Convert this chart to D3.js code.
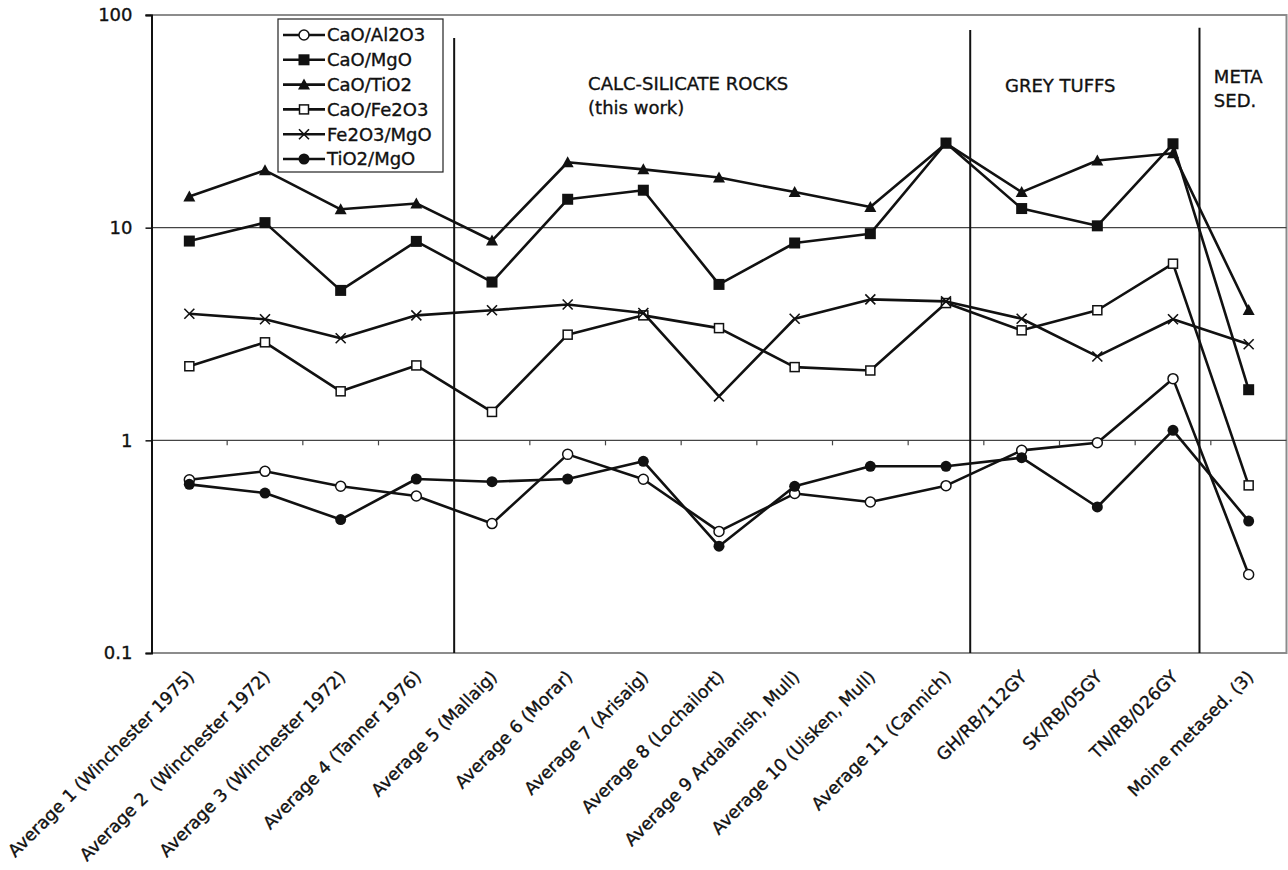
<!DOCTYPE html>
<html>
<head>
<meta charset="utf-8">
<script src="https://cdn.jsdelivr.net/npm/d3@7"></script>
<style>
  html, body { margin: 0; padding: 0; background: #fff; }
  svg { display: block; font-family: "DejaVu Sans", Verdana, sans-serif; }
  svg text { stroke: #111; stroke-width: 0.35px; }
</style>
</head>
<body>
<svg id="chart" width="1288" height="870"></svg>
<script>
// Sample groups along the x axis
const categories = [
  "Average 1 (Winchester 1975)",
  "Average 2  (Winchester 1972)",
  "Average 3 (Winchester 1972)",
  "Average 4 (Tanner 1976)",
  "Average 5 (Mallaig)",
  "Average 6 (Morar)",
  "Average 7 (Arisaig)",
  "Average 8 (Lochailort)",
  "Average 9 Ardalanish, Mull)",
  "Average 10 (Uisken, Mull)",
  "Average 11 (Cannich)",
  "GH/RB/112GY",
  "SK/RB/05GY",
  "TN/RB/026GY",
  "Moine metased. (3)"
];

// Oxide ratios, one array per series
const caoAl2o3 = [0.653, 0.715, 0.608, 0.547, 0.406, 0.859, 0.656, 0.373, 0.562, 0.513, 0.612, 0.897, 0.975, 1.95, 0.234];
const caoMgo   = [8.65, 10.56, 5.07, 8.62, 5.55, 13.6, 15.0, 5.41, 8.47, 9.37, 25.0, 12.3, 10.2, 24.8, 1.73];
const caoTio2  = [14.0, 18.6, 12.2, 13.0, 8.7, 20.3, 18.8, 17.2, 14.7, 12.5, 24.9, 14.7, 20.7, 22.4, 4.1];
const caoFe2o3 = [2.23, 2.89, 1.70, 2.25, 1.36, 3.14, 3.87, 3.37, 2.21, 2.13, 4.42, 3.29, 4.09, 6.77, 0.614];
const fe2o3Mgo = [3.94, 3.71, 3.02, 3.87, 4.09, 4.35, 3.97, 1.61, 3.73, 4.60, 4.50, 3.73, 2.48, 3.71, 2.83];
const tio2Mgo  = [0.621, 0.565, 0.424, 0.658, 0.639, 0.658, 0.797, 0.318, 0.608, 0.755, 0.755, 0.829, 0.486, 1.114, 0.417];

const seriesNames = ["CaO/Al2O3", "CaO/MgO", "CaO/TiO2", "CaO/Fe2O3", "Fe2O3/MgO", "TiO2/MgO"];
const seriesValues = [caoAl2o3, caoMgo, caoTio2, caoFe2o3, fe2o3Mgo, tio2Mgo];
const seriesMarkers = ["openCircle", "filledSquare", "filledTriangle", "openSquare", "cross", "filledCircle"];

// Log axis ticks
const yTickValues = [0.1, 1, 10, 100];
const yTickLabels = ["0.1", "1", "10", "100"];

// Rock-group dividers (in category-index units) and their captions
const dividerAt = [3.5, 10.32, 13.35];
const dividerTop = [78, 85, 87];
const groupCaptions = [
  { lines: ["CALC-SILICATE ROCKS", "(this work)"], at: 5.27, value: 44.5 },
  { lines: ["GREY TUFFS"], at: 10.78, value: 43.3 },
  { lines: ["META", "SED."], at: 13.54, value: 47.7 }
];

const svg = d3.select("#chart");
const plotLeft = 151.5, plotRight = 1286.5, plotTop = 15, plotBottom = 653;

const x = d3.scalePoint().domain(categories).range([plotLeft, plotRight]).padding(0.5);
const step = x.step();
const xi = d3.scaleLinear().domain([0, categories.length - 1])
  .range([x(categories[0]), x(categories[categories.length - 1])]);
const y = d3.scaleLog().domain([0.1, 100]).range([plotBottom, plotTop]);

// Plot frame: grey top/right/bottom edges
svg.append("path")
  .attr("d", `M${plotLeft - 6},${plotTop}H${plotRight}V${plotBottom}H${plotLeft}`)
  .attr("fill", "none").attr("stroke", "#8c8c8c").attr("stroke-width", 2);

// Horizontal gridlines at 1 and 10
svg.append("g").selectAll("line").data([1, 10]).join("line")
  .attr("x1", plotLeft).attr("x2", plotRight)
  .attr("y1", d => y(d)).attr("y2", d => y(d))
  .attr("stroke", "#444").attr("stroke-width", 1.2);

// Category tick marks along the line at 1
svg.append("g").selectAll("line").data(d3.range(1, categories.length)).join("line")
  .attr("x1", d => plotLeft + d * step).attr("x2", d => plotLeft + d * step)
  .attr("y1", y(1)).attr("y2", y(1) + 5)
  .attr("stroke", "#444").attr("stroke-width", 1.2);

// Y axis
const yAxis = d3.axisLeft(y).tickValues(yTickValues)
  .tickFormat((d, i) => yTickLabels[i]).tickSize(6).tickPadding(13);
const gy = svg.append("g").attr("transform", `translate(${plotLeft},0)`).call(yAxis);
gy.select(".domain").attr("stroke", "#111").attr("stroke-width", 2);
gy.selectAll(".tick line").attr("stroke", "#111").attr("stroke-width", 1.5);
gy.selectAll(".tick text").attr("fill", "#111").style("font-size", "18px")
  .style("font-family", "'DejaVu Sans', Verdana, sans-serif");

// Group dividers
svg.append("g").selectAll("line").data(dividerAt).join("line")
  .attr("x1", d => xi(d)).attr("x2", d => xi(d))
  .attr("y1", (d, i) => y(dividerTop[i])).attr("y2", plotBottom)
  .attr("stroke", "#111").attr("stroke-width", 2);

// Group captions
const cap = svg.append("g").attr("fill", "#111").style("font-size", "18px");
groupCaptions.forEach(g => {
  const t = cap.append("text").attr("x", xi(g.at)).attr("y", y(g.value));
  g.lines.forEach((ln, i) => {
    t.append("tspan").attr("x", xi(g.at)).attr("dy", i === 0 ? 0 : 24).text(ln);
  });
});

// Category labels, rotated
svg.append("g").selectAll("text").data(categories).join("text")
  .attr("transform", d => `translate(${x(d) + 6},${plotBottom + 25}) rotate(-45)`)
  .attr("text-anchor", "end")
  .attr("fill", "#111")
  .style("font-size", "17.4px")
  .style("white-space", "pre")
  .text(d => d);

// Marker drawing
function drawMarker(g, type, cx, cy) {
  switch (type) {
    case "openCircle":
      g.append("circle").attr("cx", cx).attr("cy", cy).attr("r", 5)
        .attr("fill", "#fff").attr("stroke", "#111").attr("stroke-width", 1.5);
      break;
    case "filledCircle":
      g.append("circle").attr("cx", cx).attr("cy", cy).attr("r", 5.5).attr("fill", "#111");
      break;
    case "filledSquare":
      g.append("rect").attr("x", cx - 5.5).attr("y", cy - 5.5).attr("width", 11).attr("height", 11).attr("fill", "#111");
      break;
    case "openSquare":
      g.append("rect").attr("x", cx - 4.5).attr("y", cy - 4.5).attr("width", 9).attr("height", 9)
        .attr("fill", "#fff").attr("stroke", "#111").attr("stroke-width", 1.5);
      break;
    case "filledTriangle":
      g.append("path").attr("d", `M${cx},${cy - 6}L${cx + 6},${cy + 5}L${cx - 6},${cy + 5}Z`).attr("fill", "#111");
      break;
    case "cross":
      g.append("path").attr("d", `M${cx - 5},${cy - 5}L${cx + 5},${cy + 5}M${cx - 5},${cy + 5}L${cx + 5},${cy - 5}`)
        .attr("stroke", "#111").attr("stroke-width", 1.6);
      break;
  }
}

const line = d3.line().x((d, i) => x(categories[i])).y(d => y(d));
const plot = svg.append("g");
seriesValues.forEach((vals, si) => {
  const g = plot.append("g");
  g.append("path").datum(vals).attr("d", line)
    .attr("fill", "none").attr("stroke", "#111").attr("stroke-width", 2.6)
    .attr("stroke-linejoin", "round");
  vals.forEach((v, i) => drawMarker(g, seriesMarkers[si], x(categories[i]), y(v)));
});

// Legend
const legend = svg.append("g");
const lgX = 278, lgY = 19, lgW = 165, lgRow = 24.8;
legend.append("rect").attr("x", lgX).attr("y", lgY).attr("width", lgW).attr("height", 153)
  .attr("fill", "#fff").attr("stroke", "#222").attr("stroke-width", 1.2);
seriesNames.forEach((name, i) => {
  const cy = lgY + 16 + i * lgRow;
  const g = legend.append("g");
  g.append("line").attr("x1", lgX + 5).attr("x2", lgX + 47).attr("y1", cy).attr("y2", cy)
    .attr("stroke", "#111").attr("stroke-width", 2.6);
  drawMarker(g, seriesMarkers[i], lgX + 26, cy);
  g.append("text").attr("x", lgX + 49).attr("y", cy).attr("dy", "0.35em")
    .attr("fill", "#111").style("font-size", "18px").text(name);
});
</script>
</body>
</html>
